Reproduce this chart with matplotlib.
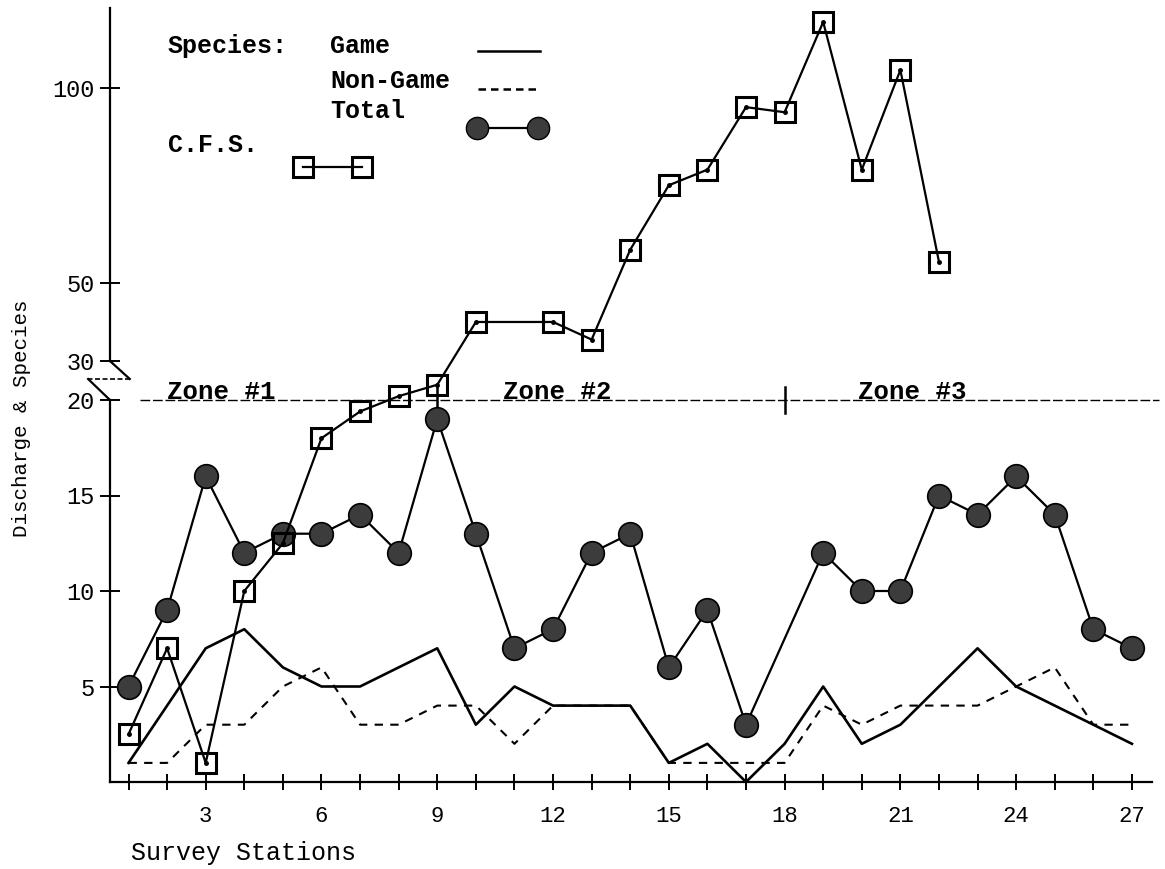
import numpy as np
import matplotlib
matplotlib.use("Agg")
import matplotlib.pyplot as plt
from matplotlib.lines import Line2D
from matplotlib.transforms import blended_transform_factory

# Dados (estações de amostragem 1-27)
stations = list(range(1, 28))
game = [1, 4, 7, 8, 6, 5, 5, 6, 7, 3, 5, 4, 4, 4, 1, 2, 0, 2, 5, 2, 3, 5, 7, 5, 4, 3, 2]
non_game = [1, 1, 3, 3, 5, 6, 3, 3, 4, 4, 2, 4, 4, 4, 1, 1, 1, 1, 4, 3, 4, 4, 4, 5, 6, 3, 3]

# Total de espécies (sem valor na estação 18)
total_st = [1, 2, 3, 4, 5, 6, 7, 8, 9, 10, 11, 12, 13, 14, 15, 16, 17,
            19, 20, 21, 22, 23, 24, 25, 26, 27]
total = [5, 9, 16, 12, 13, 13, 14, 12, 19, 13, 7, 8, 12, 13, 6, 9, 3,
         12, 10, 10, 15, 14, 16, 14, 8, 7]

# Vazão (C.F.S.), sem valor na estação 11
cfs_st = [1, 2, 3, 4, 5, 6, 7, 8, 9, 10, 12, 13, 14, 15, 16, 17, 18, 19, 20, 21, 22]
cfs = [2.5, 7, 1, 10, 12.5, 18, 19.4, 20.2, 20.8, 40, 40, 35.5, 58.5, 75, 79,
       95, 93.7, 116.8, 79, 104.5, 55.4]

y_ticks = [5, 10, 15, 20, 30, 50, 100]
x_ticks = [3, 6, 9, 12, 15, 18, 21, 24, 27]
zone_names = ["Zone #1", "Zone #2", "Zone #3"]

# Escala quebrada: 0-21 linear, 21-30 comprimido, acima de 30 escala reduzida
REAL = [0, 21, 30, 130]
PLOT = [0, 21, 22.04, 42.49]


def fwd(v):
    v = np.asarray(v, dtype=float)
    out = np.interp(v, REAL, PLOT)
    out = np.where(v < 0, v, out)
    out = np.where(v > 130, 42.49 + (v - 130) * 0.2045, out)
    return out


def inv(p):
    p = np.asarray(p, dtype=float)
    out = np.interp(p, PLOT, REAL)
    out = np.where(p < 0, p, out)
    out = np.where(p > 42.49, 130 + (p - 42.49) / 0.2045, out)
    return out


FONT = "Liberation Mono"
plt.rcParams["font.family"] = [FONT, "DejaVu Sans Mono"]

W, H = 1165, 869
fig = plt.figure(figsize=(W / 100, H / 100), dpi=100)
ax = fig.add_axes([110 / W, 1 - 782 / H, 1042 / W, 774 / H])
ax.set_yscale("function", functions=(fwd, inv))
ax.set_xlim(0.52, 27.52)
ax.set_ylim(0, float(inv(774 / 19.1)))

# Séries
ax.plot(stations, game, color="black", lw=1.9, zorder=3)
ax.plot(stations, non_game, color="black", lw=1.5, linestyle=(0, (4, 3.5)), zorder=3)
ax.plot(total_st, total, color="black", lw=1.6, marker="o", markersize=17,
        markerfacecolor="#3c3c3c", markeredgecolor="black", markeredgewidth=1.2, zorder=4)
ax.plot(cfs_st, cfs, color="black", lw=1.6, marker="s", markersize=14,
        markerfacecolor="none", markeredgecolor="black", markeredgewidth=2.2, zorder=5)
ax.plot(cfs_st, cfs, linestyle="none", marker="o", markersize=2.5, color="black", zorder=5)

# Eixos
for s in ["top", "right", "left"]:
    ax.spines[s].set_visible(False)
ax.spines["bottom"].set_linewidth(1.6)

ax.set_xticks(x_ticks)
ax.set_xticks(stations, minor=True)
ax.tick_params(axis="x", which="both", direction="inout", length=11, width=1.4,
               labelsize=16, pad=12)
ax.set_yticks(y_ticks)
ax.set_yticks([], minor=True)
ax.tick_params(axis="y", which="both", direction="inout", length=14, width=1.4,
               labelsize=17, pad=4)

# Eixo y com quebra entre 20 e 30
bt = blended_transform_factory(ax.transAxes, ax.transData)
ymax = ax.get_ylim()[1]
ax.plot([0, 0], [0, 20], color="black", lw=1.6, transform=bt, clip_on=False)
ax.plot([0, 0], [30, ymax], color="black", lw=1.6, transform=bt, clip_on=False)
ymid = float(inv((782 - 379) / 19.1))
ax.plot([0, 0.019], [30, ymid], color="black", lw=1.6, transform=bt, clip_on=False)
ax.plot([0.019, -0.021], [ymid, ymid], color="black", lw=1.2, linestyle=(0, (3, 1.5)),
        transform=bt, clip_on=False)
ax.plot([-0.021, 0], [ymid, 20], color="black", lw=1.6, transform=bt, clip_on=False)

# Linha das zonas
ax.plot([1.3, 27.7], [20, 20], color="black", lw=1.0, linestyle=(0, (7, 2)), clip_on=False, zorder=2)
for xz in [9, 18]:
    ax.plot([xz, xz], [19.3, 20.7], color="black", lw=1.8, zorder=2)
for name, xz in zip(zone_names, [2.0, 10.7, 19.9]):
    ax.text(xz, 20.05, name, fontsize=18.5, fontweight="bold", ha="left",
            va="baseline", color="black", zorder=6)

# Legenda manual
def P(x, y):
    return x / W, 1 - y / H


for txt, (x, y) in [("Species:", (168, 53)), ("Game", (330, 53)),
                    ("Non-Game", (330, 88)), ("Total", (330, 118)),
                    ("C.F.S.", (168, 152))]:
    fig.text(*P(x, y), txt, fontsize=18, fontweight="bold", ha="left", va="baseline")

x0, _ = P(478, 0)
x1, _ = P(540, 0)
fig.add_artist(Line2D([x0, x1], [P(0, 51)[1]] * 2, transform=fig.transFigure,
                      color="black", lw=1.8))
fig.add_artist(Line2D([x0, x1], [P(0, 89)[1]] * 2, transform=fig.transFigure,
                      color="black", lw=1.8, linestyle=(0, (3, 2))))
fig.add_artist(Line2D([P(477, 0)[0], P(538, 0)[0]], [P(0, 128)[1]] * 2,
                      transform=fig.transFigure, color="black", lw=1.6, marker="o",
                      markersize=16, markerfacecolor="#3c3c3c", markeredgecolor="black"))
fig.add_artist(Line2D([P(303, 0)[0], P(362, 0)[0]], [P(0, 167)[1]] * 2,
                      transform=fig.transFigure, color="black", lw=1.6, marker="s",
                      markersize=14, markerfacecolor="none", markeredgecolor="black",
                      markeredgewidth=2.2))

# Rótulos dos eixos
fig.text(*P(22, 418), "Discharge & Species", rotation=90, fontsize=15,
         ha="center", va="center")
fig.text(*P(131, 860), "Survey Stations", fontsize=18, ha="left", va="baseline")

fig.savefig("out.png", dpi=100)
